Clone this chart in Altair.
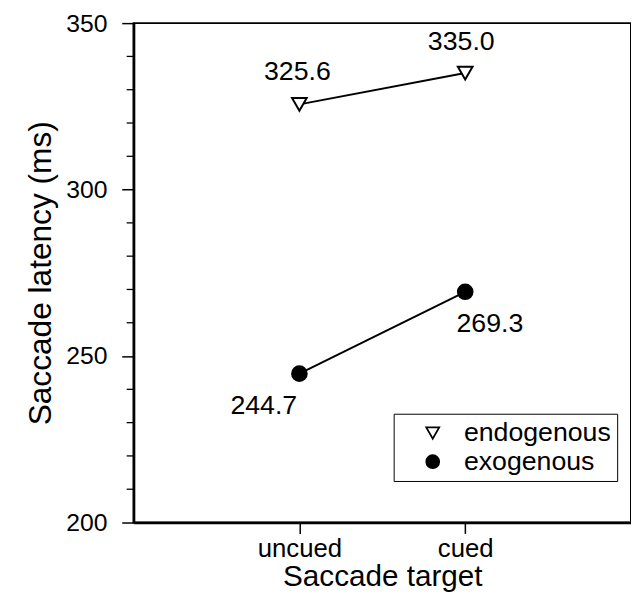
import altair as alt
import pandas as pd

conditions = ["endogenous", "endogenous", "exogenous", "exogenous"]
targets = ["uncued", "cued", "uncued", "cued"]
latency = [325.6, 335.0, 244.7, 269.3]
labels = ["325.6", "335.0", "244.7", "269.3"]

df = pd.DataFrame({"condition": conditions, "target": targets,
                   "latency": latency, "label": labels})

FONT = "Liberation Sans"
DOMAIN = ["endogenous", "exogenous"]

x = alt.X("target:N", sort=["uncued", "cued"],
          scale=alt.Scale(type="point", padding=1),
          axis=alt.Axis(title="Saccade target", labelAngle=0, labelFontSize=26,
                        titleFontSize=30, titleFontWeight="normal", ticks=True,
                        tickSize=11, tickWidth=1.5, tickColor="black", domainColor="black",
                        domainWidth=2.5, labelColor="black", titleColor="black",
                        labelPadding=2, titlePadding=1, labelFont=FONT, titleFont=FONT))
y = alt.Y("latency:Q", scale=alt.Scale(domain=[200, 350], nice=False, zero=False),
          axis=alt.Axis(title="Saccade latency (ms)", values=[200, 250, 300, 350],
                        grid=False, labelFontSize=25, titleFontSize=32,
                        titleFontWeight="normal", tickSize=12, tickColor="black",
                        tickWidth=1.5, domainColor="black", domainWidth=2.5,
                        labelColor="black", titleColor="black", labelPadding=15,
                        titlePadding=8, labelFont=FONT, titleFont=FONT))

minor_vals = [v for v in range(200, 351, 10) if v % 50 != 0]
minor = alt.Chart(pd.DataFrame({"v": minor_vals})).mark_rule(
    color="black", strokeWidth=1.3).encode(
    y="v:Q", x=alt.value(-7), x2=alt.value(0))

base = alt.Chart(df)
lines = base.mark_line(color="black", strokeWidth=2).encode(
    x=x, y=y, detail="condition:N")
points = base.mark_point(filled=False, strokeWidth=2, opacity=1).encode(
    x=x, y=y,
    shape=alt.Shape("condition:N",
                    scale=alt.Scale(domain=DOMAIN, range=["triangle-down", "circle"]),
                    legend=alt.Legend(title=None)),
    fill=alt.Fill("condition:N",
                  scale=alt.Scale(domain=DOMAIN, range=["white", "black"]),
                  legend=alt.Legend(title=None)),
    stroke=alt.Stroke("condition:N",
                      scale=alt.Scale(domain=DOMAIN, range=["black", "black"]),
                      legend=alt.Legend(title=None)),
    size=alt.value(220))

offsets = {"325.6": (-2, -33), "335.0": (-4, -31), "244.7": (-36, 33), "269.3": (25, 33)}
texts = []
for lab, (dx, dy) in offsets.items():
    texts.append(base.transform_filter(alt.datum.label == lab).mark_text(
        fontSize=27, font=FONT, color="black", dx=dx, dy=dy).encode(
        x=x, y=y, text="label:N"))

chart = alt.layer(minor, lines, points, *texts).properties(
    width=503, height=505,
    autosize=alt.AutoSizeParams(type="none"),
    padding={"left": 127, "top": 12, "right": 0, "bottom": 69},
).configure_view(stroke="black", strokeWidth=2).configure_legend(
    orient="none", legendX=263, legendY=395, strokeColor="black",
    padding=6, labelFontSize=27, labelFont=FONT, labelColor="black",
    symbolSize=170, symbolStrokeWidth=1.8,
    symbolOffset=20, labelOffset=18, rowPadding=1, fillColor="white", cornerRadius=0)

chart.save("out.html", embed_options={"renderer": "svg", "actions": False})
